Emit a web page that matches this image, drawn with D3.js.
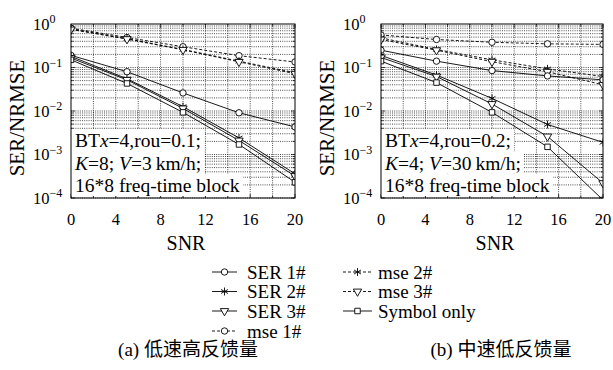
<!DOCTYPE html>
<html>
<head>
<meta charset="utf-8">
<script src="https://cdn.jsdelivr.net/npm/d3@7"></script>
<style>
  body { margin: 0; background: #fff; }
  text { font-family: "Liberation Serif", "DejaVu Serif", serif, "Noto Sans CJK SC"; fill: #000; }
</style>
</head>
<body>
<div id="chart"></div>
<script>
// x values and tick labels
const snr = [0, 5, 10, 15, 20];
const xTicks = [0, 4, 8, 12, 16, 20];
const xGrid = [2, 4, 6, 8, 10, 12, 14, 16, 18];
const yTicks = [1, 0.1, 0.01, 0.001, 0.0001];
const yExponents = ["0", "\u22121", "\u22122", "\u22123", "\u22124"];
const seriesNames = ["SER 1#", "SER 2#", "SER 3#", "mse 1#", "mse 2#", "mse 3#", "Symbol only"];
const captions = ["(a) \u4f4e\u901f\u9ad8\u53cd\u9988\u91cf", "(b) \u4e2d\u901f\u4f4e\u53cd\u9988\u91cf"];

// panel (a)
const ser1A = [0.19, 0.08, 0.026, 0.0091, 0.0043];
const ser2A = [0.18, 0.055, 0.0126, 0.0024, 0.00036];
const ser3A = [0.165, 0.052, 0.0115, 0.0021, 0.00032];
const mse1A = [0.8, 0.49, 0.30, 0.187, 0.134];
const mse2A = [0.77, 0.46, 0.26, 0.14, 0.076];
const mse3A = [0.75, 0.45, 0.255, 0.135, 0.072];
const symA = [0.15, 0.043, 0.0093, 0.0017, 0.00023];
const notesA = [[["BT", 0], ["x", 1], ["=4,rou=0.1;", 0]],
                [["K", 1], ["=8; ", 0], ["V", 1], ["=3\u2009km/h;", 0]],
                [["16*8 freq-time block", 0]]];

// panel (b)
const ser1B = [0.25, 0.14, 0.085, 0.064, 0.052];
const ser2B = [0.19, 0.067, 0.0195, 0.0049, 0.0019];
const ser3B = [0.17, 0.062, 0.0145, 0.0026, 0.00022];
const mse1B = [0.56, 0.44, 0.38, 0.35, 0.34];
const mse2B = [0.48, 0.26, 0.15, 0.093, 0.062];
const mse3B = [0.44, 0.25, 0.136, 0.08, 0.04];
const symB = [0.14, 0.045, 0.0093, 0.0015, 0.00009];
const notesB = [[["BT", 0], ["x", 1], ["=4,rou=0.2;", 0]],
                [["K", 1], ["=4; ", 0], ["V", 1], ["=30\u2009km/h;", 0]],
                [["16*8 freq-time block", 0]]];

const W = 613, H = 370;
const plotTop = 24, plotBottom = 198;

const svg = d3.select("#chart").append("svg")
  .attr("width", W).attr("height", H)
  .style("display", "block");

const symType = [d3.symbolCircle, d3.symbolAsterisk, d3.symbolTriangle, d3.symbolCircle,
                 d3.symbolAsterisk, d3.symbolTriangle, d3.symbolSquare];
const symSize = [32, 44, 30, 32, 44, 30, 30];
const dashed = [false, false, false, true, true, true, false];

function marker(i) {
  return d3.symbol().type(symType[i]).size(symSize[i])();
}
function markerRot(i) {
  return symType[i] === d3.symbolTriangle ? " rotate(180)" : "";
}

const panels = [
  {left: 71, right: 295, series: [ser1A, ser2A, ser3A, mse1A, mse2A, mse3A, symA], notes: notesA, cap: captions[0], capX: 188, labelX: 17},
  {left: 381, right: 603, series: [ser1B, ser2B, ser3B, mse1B, mse2B, mse3B, symB], notes: notesB, cap: captions[1], capX: 501, labelX: 327}
];

panels.forEach(function(p, pi) {
  const x = d3.scaleLinear().domain([0, 20]).range([p.left, p.right]);
  const y = d3.scaleLog().domain([1e-4, 1]).range([plotBottom, plotTop]);
  const g = svg.append("g");

  svg.append("clipPath").attr("id", "clip" + pi)
    .append("rect")
    .attr("x", p.left).attr("y", plotTop)
    .attr("width", p.right - p.left).attr("height", plotBottom - plotTop);

  // grid
  const grid = g.append("g")
    .attr("stroke", "#000").attr("stroke-width", 0.7)
    .attr("stroke-dasharray", "1,1.2");
  const yGrid = [];
  for (let d = -4; d < 0; d++) {
    for (let m = 1; m < 10; m++) yGrid.push(m * Math.pow(10, d));
  }
  grid.selectAll(".hg").data(yGrid).enter().append("line")
    .attr("x1", p.left).attr("x2", p.right)
    .attr("y1", d => y(d)).attr("y2", d => y(d));
  grid.selectAll(".vg").data(xGrid).enter().append("line")
    .attr("x1", d => x(d)).attr("x2", d => x(d))
    .attr("y1", plotTop).attr("y2", plotBottom);

  // inward ticks
  const ticks = g.append("g").attr("stroke", "#000").attr("stroke-width", 0.7);
  xGrid.concat([0, 20]).forEach(function(v) {
    const len = xTicks.indexOf(v) >= 0 ? 4 : 2.5;
    ticks.append("line").attr("x1", x(v)).attr("x2", x(v)).attr("y1", plotBottom).attr("y2", plotBottom - len);
    ticks.append("line").attr("x1", x(v)).attr("x2", x(v)).attr("y1", plotTop).attr("y2", plotTop + len);
  });
  yGrid.forEach(function(v, i) {
    const len = (i % 9 === 0) ? 4 : 2.5;
    ticks.append("line").attr("x1", p.left).attr("x2", p.left + len).attr("y1", y(v)).attr("y2", y(v));
    ticks.append("line").attr("x1", p.right).attr("x2", p.right - len).attr("y1", y(v)).attr("y2", y(v));
  });

  // note backgrounds and text
  const noteBg = g.append("g");
  const lines = g.append("g").attr("clip-path", "url(#clip" + pi + ")");
  const noteTxt = g.append("g");
  p.notes.forEach(function(line, li) {
    const t = noteTxt.append("text")
      .attr("x", p.left + 4)
      .attr("y", 147 + li * 22.5)
      .style("font-size", "19.5px");
    line.forEach(function(seg) {
      t.append("tspan").text(seg[0]).style("font-style", seg[1] ? "italic" : "normal");
    });
    const bb = t.node().getBBox();
    noteBg.append("rect")
      .attr("x", p.left).attr("y", bb.y - 1)
      .attr("width", bb.x + bb.width + 3 - p.left).attr("height", bb.height + 1)
      .attr("fill", "#fff");
  });

  // series
  const order = [3, 4, 5, 0, 1, 2, 6];
  order.forEach(function(i) {
    const vals = p.series[i];
    const pts = snr.map((s, k) => [s, vals[k]]);
    lines.append("path")
      .datum(pts)
      .attr("fill", "none")
      .attr("stroke", "#000")
      .attr("stroke-width", 0.9)
      .attr("stroke-dasharray", dashed[i] ? "3,2" : null)
      .attr("d", d3.line().x(d => x(d[0])).y(d => y(d[1])));
    lines.selectAll(".m" + i).data(pts).enter().append("path")
      .attr("transform", d => "translate(" + x(d[0]) + "," + y(d[1]) + ")" + markerRot(i))
      .attr("d", marker(i))
      .attr("fill", symType[i] === d3.symbolAsterisk ? "none" : "#fff")
      .attr("stroke", "#000")
      .attr("stroke-width", 0.9);
  });

  // frame
  g.append("rect")
    .attr("x", p.left).attr("y", plotTop)
    .attr("width", p.right - p.left).attr("height", plotBottom - plotTop)
    .attr("fill", "none").attr("stroke", "#000").attr("stroke-width", 1);

  // x tick labels
  g.selectAll(".xt").data(xTicks).enter().append("text")
    .attr("x", d => x(d)).attr("y", 225)
    .attr("text-anchor", "middle")
    .style("font-size", "16.5px")
    .text(d => d);

  // y tick labels
  yTicks.forEach(function(v, i) {
    const t = g.append("text")
      .attr("x", p.left - 38).attr("y", y(v))
      .attr("dy", "0.35em")
      .style("font-size", "16.5px");
    t.append("tspan").text("10");
    t.append("tspan").attr("dy", "-0.55em").style("font-size", "12px").text(yExponents[i]);
  });

  // axis labels
  svg.append("text")
    .attr("transform", "translate(" + (p.labelX + 7) + ",118) rotate(-90)")
    .attr("text-anchor", "middle")
    .style("font-size", "21px")
    .text("SER/NRMSE");
  svg.append("text")
    .attr("x", (p.left + p.right) / 2 + 3).attr("y", 250)
    .attr("text-anchor", "middle")
    .style("font-size", "20px")
    .text("SNR");

  // caption
  svg.append("text")
    .attr("x", p.capX).attr("y", 356)
    .attr("text-anchor", "middle")
    .style("font-size", "19px")
    .text(p.cap);
});

// legend
const legend = svg.append("g");
const legRows = [272, 291.5, 311, 331];
const legCols = [{x1: 212, x2: 237, tx: 247}, {x1: 343, x2: 372, tx: 378}];
seriesNames.forEach(function(name, i) {
  const col = i < 4 ? legCols[0] : legCols[1];
  const yy = i < 4 ? legRows[i] : legRows[i - 4];
  legend.append("line")
    .attr("x1", col.x1).attr("x2", col.x2).attr("y1", yy).attr("y2", yy)
    .attr("stroke", "#000").attr("stroke-width", 0.9)
    .attr("stroke-dasharray", dashed[i] ? "3,2" : null);
  legend.append("path")
    .attr("transform", "translate(" + (col.x1 + col.x2) / 2 + "," + yy + ")" + markerRot(i))
    .attr("d", marker(i))
    .attr("fill", symType[i] === d3.symbolAsterisk ? "none" : "#fff")
    .attr("stroke", "#000").attr("stroke-width", 0.9);
  legend.append("text")
    .attr("x", col.tx).attr("y", yy).attr("dy", "0.35em")
    .style("font-size", "19px")
    .text(name);
});
</script>
</body>
</html>
